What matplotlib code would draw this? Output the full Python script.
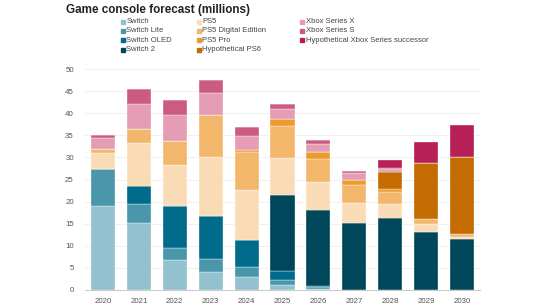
import numpy as np
import matplotlib.pyplot as plt
from matplotlib.patches import Rectangle

plt.rcParams['font.family'] = ['Liberation Sans', 'DejaVu Sans']

years = ['2020', '2021', '2022', '2023', '2024', '2025', '2026', '2027', '2028', '2029', '2030']

switch = [19.0, 15.2, 6.8, 4.1, 2.9, 1.1, 0.3, 0, 0, 0, 0]
switch_lite = [8.3, 4.3, 2.6, 2.9, 2.2, 1.1, 0.3, 0, 0, 0, 0]
switch_oled = [0, 4.0, 9.5, 9.7, 6.2, 2.1, 0.3, 0, 0, 0, 0]
switch_2 = [0, 0, 0, 0, 0, 17.3, 17.1, 15.1, 16.3, 13.2, 11.5]
ps5 = [3.6, 9.8, 9.3, 13.5, 11.3, 8.3, 6.4, 4.6, 3.2, 1.7, 0.6]
ps5_de = [0.9, 3.1, 5.5, 9.3, 8.7, 7.2, 5.2, 4.1, 2.6, 1.2, 0.6]
ps5_pro = [0, 0, 0, 0, 0.4, 1.7, 1.7, 1.2, 0.8, 0, 0]
ps6 = [0, 0, 0, 0, 0, 0, 0, 0, 3.9, 12.6, 17.4]
xbox_x = [2.6, 5.6, 6.0, 5.1, 3.1, 2.1, 1.7, 1.4, 0.5, 0, 0]
xbox_s = [0.7, 3.5, 3.2, 2.8, 2.0, 1.1, 0.9, 0.6, 0.2, 0, 0]
xbox_next = [0, 0, 0, 0, 0, 0, 0, 0, 1.8, 4.7, 7.3]

series = [
    ('Switch', switch, '#94c1cf'),
    ('Switch Lite', switch_lite, '#4a97ac'),
    ('Switch OLED', switch_oled, '#006b8b'),
    ('Switch 2', switch_2, '#00475b'),
    ('PS5', ps5, '#f9dcb6'),
    ('PS5 Digital Edition', ps5_de, '#f3b76c'),
    ('PS5 Pro', ps5_pro, '#ef9a2d'),
    ('Hypothetical PS6', ps6, '#c46b02'),
    ('Xbox Series X', xbox_x, '#e59db6'),
    ('Xbox Series S', xbox_s, '#cb5c80'),
    ('Hypothetical Xbox Series successor', xbox_next, '#b72056'),
]

fig = plt.figure(figsize=(5.5, 3.08), dpi=100)
ax = fig.add_axes([85 / 550, 1 - 290 / 308, 395 / 550, 221 / 308])

x = np.arange(len(years))
bottom = np.zeros(len(years))
for name, vals, col in series:
    vals = np.array(vals, dtype=float)
    ax.bar(x, vals, width=0.67, bottom=bottom, color=col, edgecolor='white', linewidth=0.25)
    bottom += vals

ax.set_xlim(-0.5, len(years) - 0.5)
ax.set_ylim(0, 50)
ax.set_yticks(range(0, 51, 5))
ax.set_xticks(x)
ax.set_xticklabels(years)
ax.tick_params(axis='both', length=0, labelsize=5.7, colors='#555555', pad=6)
ax.tick_params(axis='y', pad=8)
ax.grid(axis='y', color='#eeeeee', linewidth=0.6)
ax.set_axisbelow(True)
for s in ['top', 'right', 'left']:
    ax.spines[s].set_visible(False)
ax.spines['bottom'].set_color('#cccccc')
ax.spines['bottom'].set_linewidth(0.8)

fig.text(66 / 550, 1 - 13 / 308, 'Game console forecast (millions)', fontsize=8.4,
         fontweight='bold', color='#222222')

# legend, column-major
col_x = [121, 197, 300]
row_y = [21.7, 31.0, 40.3, 49.7]
sq = 3.6
for i, (name, vals, col) in enumerate(series):
    c = 0 if i < 4 else (1 if i < 8 else 2)
    r = i if i < 4 else (i - 4 if i < 8 else i - 8)
    px, py = col_x[c], row_y[r]
    fig.patches.append(Rectangle((px / 550, 1 - (py + sq / 2) / 308), sq / 550, sq / 308,
                                 transform=fig.transFigure, color=col, figure=fig))
    fig.text((px + 5.5) / 550, 1 - py / 308, name, fontsize=5.5, color='#444444', va='center')

fig.savefig('out.png', dpi=100)
